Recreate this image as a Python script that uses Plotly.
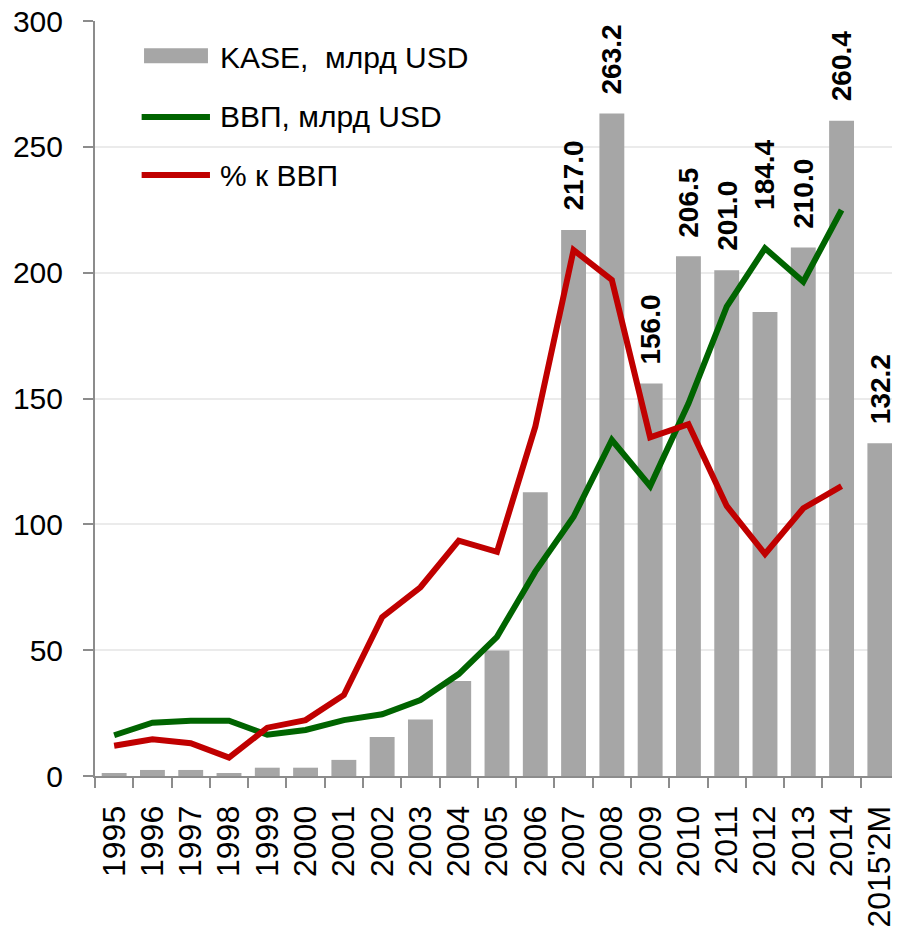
import plotly.graph_objects as go

# categories and series
years = ["1995", "1996", "1997", "1998", "1999", "2000", "2001", "2002", "2003", "2004",
         "2005", "2006", "2007", "2008", "2009", "2010", "2011", "2012", "2013", "2014", "2015'2M"]
kase = [1.2, 2.4, 2.4, 1.2, 3.3, 3.3, 6.4, 15.5, 22.5, 37.7,
        49.9, 112.7, 217.0, 263.2, 156.0, 206.5, 201.0, 184.4, 210.0, 260.4, 132.2]
gdp = [16.2, 21.2, 22.0, 22.0, 16.4, 18.3, 22.2, 24.5, 30.2, 40.5,
       55.3, 81.2, 103.0, 133.5, 115.2, 148.0, 186.5, 209.7, 196.4, 224.9, None]
pct_gdp = [12.0, 14.6, 13.0, 7.3, 19.2, 22.2, 32.2, 63.1, 75.0, 93.5,
           89.1, 138.8, 209.0, 197.1, 134.6, 139.8, 107.3, 88.2, 106.4, 115.2, None]
labelled_years = ["2007", "2008", "2009", "2010", "2011", "2012", "2013", "2014", "2015'2M"]

names = ["KASE,&nbsp; млрд USD", "ВВП, млрд USD", "% к ВВП"]

BAR = "#a6a6a6"
GREEN = "#006400"
RED = "#c00000"
FONT = "Arial, Liberation Sans, sans-serif"

# extra lift (px) for labels that would collide with the lines
label_shift = {"2012": 83}

fig = go.Figure()
fig.add_trace(go.Bar(x=years, y=kase, marker=dict(color=BAR, line=dict(width=0)),
                     name=names[0], showlegend=False))
fig.add_trace(go.Scatter(x=years, y=gdp, mode="lines", line=dict(color=GREEN, width=6),
                         name=names[1], showlegend=False))
fig.add_trace(go.Scatter(x=years, y=pct_gdp, mode="lines", line=dict(color=RED, width=6),
                         name=names[2], showlegend=False))

for yr in labelled_years:
    i = years.index(yr)  # category index, strings like "2007" would be read as numbers
    fig.add_annotation(x=i, y=kase[i], text=f"<b>{kase[i]:.1f}</b>", textangle=-90, showarrow=False,
                       yanchor="bottom", yshift=17 + label_shift.get(yr, 0),
                       font=dict(size=28, color="black", family=FONT))

# hand-made legend, top left of the plot
fig.add_shape(type="rect", xref="paper", yref="paper", x0=0.061, x1=0.1405, y0=0.944, y1=0.964,
              fillcolor=BAR, line=dict(width=0))
fig.add_shape(type="line", xref="paper", yref="paper", x0=0.058, x1=0.143, y0=0.873, y1=0.873,
              line=dict(color=GREEN, width=6))
fig.add_shape(type="line", xref="paper", yref="paper", x0=0.058, x1=0.143, y0=0.796, y1=0.796,
              line=dict(color=RED, width=6))
for name, yy in zip(names, [0.952, 0.873, 0.796]):
    fig.add_annotation(x=0.153, y=yy, xref="paper", yref="paper", text=name, showarrow=False,
                       xanchor="left", yanchor="middle", font=dict(size=30, color="black", family=FONT))

# page body has an 8px margin, so the figure is a bit smaller than the window
fig.update_layout(
    width=892, height=923,
    margin=dict(l=87, r=1, t=13, b=155, autoexpand=False),
    plot_bgcolor="white", paper_bgcolor="white",
    bargap=0.35,
    font=dict(family=FONT, color="black"),
    xaxis=dict(type="category", showline=True, linecolor="#8c8c8c", linewidth=2,
               ticks="outside", tickson="boundaries", ticklen=10, tickcolor="#8c8c8c", tickwidth=2,
               tickangle=-90, tickfont=dict(size=32), ticklabelstandoff=15, showgrid=False),
    yaxis=dict(range=[0, 300], dtick=50, showline=True, linecolor="#8c8c8c", linewidth=2,
               ticks="outside", ticklen=10, tickcolor="#8c8c8c", tickwidth=2,
               gridcolor="#ebebeb", gridwidth=2, zeroline=False,
               tickfont=dict(size=30), ticklabelstandoff=14, ticklabeloverflow="allow"),
)

fig.write_html("out.html")
